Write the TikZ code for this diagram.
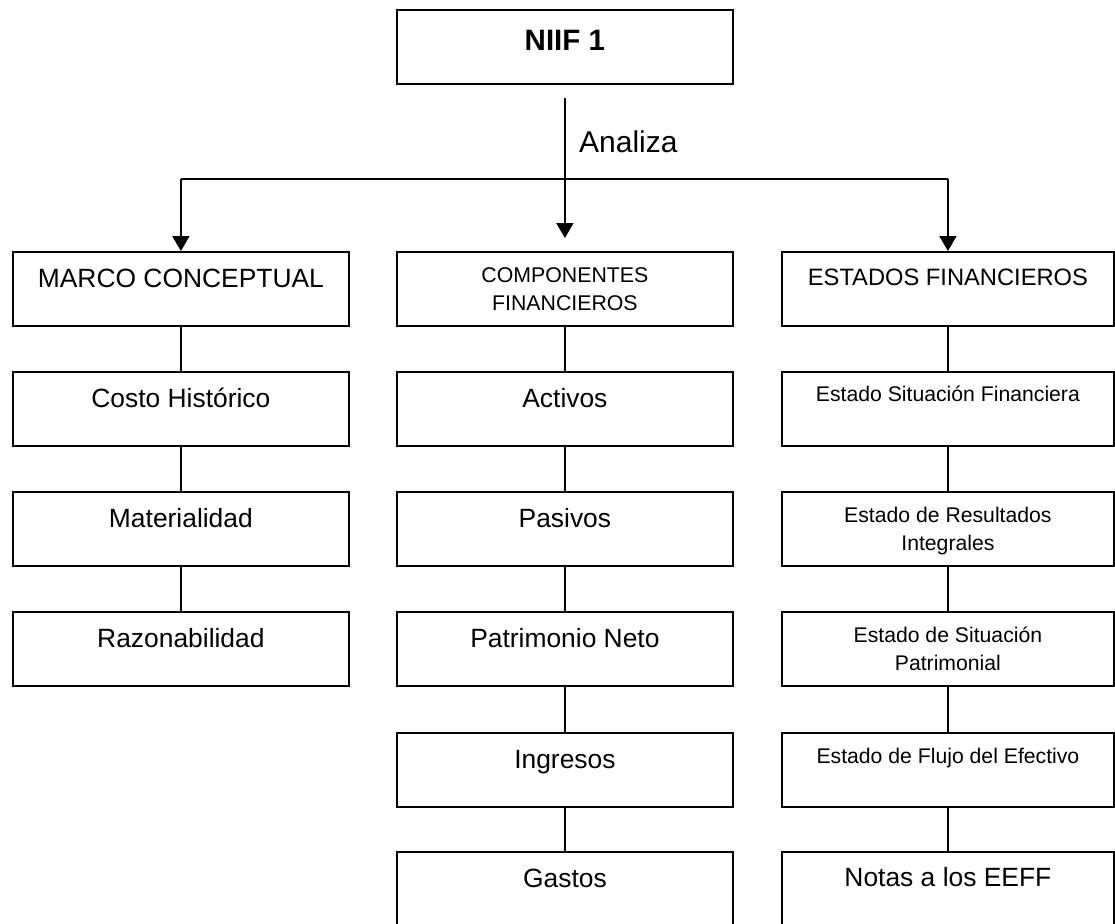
\documentclass[tikz,border=0pt]{standalone}
\usepackage{fontspec}
\setmainfont{Liberation Sans}
\usetikzlibrary{arrows.meta}

% box text: width, font size, line spacing, first-baseline offset, text
\newcommand\cell[5]{\parbox[c][74pt][t]{#1}{\centering\fontsize{#2}{#3}\selectfont\rule{0pt}{#4}#5\par}}

\tikzset{
  box/.style={draw, line width=1.8pt, inner sep=0pt, anchor=north west},
  link/.style={line width=1.6pt},
  arr/.style={line width=2pt, -{Triangle[width=17pt,length=15pt]}}
}

\begin{document}
\begin{tikzpicture}[x=1pt,y=-1pt]
\useasboundingbox (0,0) rectangle (1115,923);

% top node
\node[box] (niif) at (396,9) {\parbox[c][74pt][t]{336pt}{\centering\fontsize{29.5}{34}\selectfont\bfseries\rule{0pt}{41pt}NIIF 1\par}};

% left column
\node[box] (marco) at (12,251) {\cell{336pt}{26.4}{30}{36pt}{MARCO CONCEPTUAL}};
\node[box] (costo) at (12,371) {\cell{336pt}{26.4}{30}{36pt}{Costo Histórico}};
\node[box] (mater) at (12,491) {\cell{336pt}{26.4}{30}{36pt}{Materialidad}};
\node[box] (razon) at (12,611) {\cell{336pt}{26.4}{30}{36pt}{Razonabilidad}};

% middle column
\node[box] (comp) at (396,251) {\cell{336pt}{21.3}{27.5}{31pt}{COMPONENTES\\FINANCIEROS}};
\node[box] (activos) at (396,371) {\cell{336pt}{26.4}{30}{36pt}{Activos}};
\node[box] (pasivos) at (396,491) {\cell{336pt}{26.4}{30}{36pt}{Pasivos}};
\node[box] (patri) at (396,611) {\cell{336pt}{26.4}{30}{36pt}{Patrimonio Neto}};
\node[box] (ingresos) at (396,732) {\cell{336pt}{26.4}{30}{36pt}{Ingresos}};
\node[box] (gastos) at (396,851) {\cell{336pt}{26.4}{30}{36pt}{Gastos}};

% right column
\node[box] (estados) at (781,251) {\cell{332pt}{23.7}{28}{34pt}{ESTADOS FINANCIEROS}};
\node[box] (esf) at (781,371) {\cell{332pt}{21.2}{28}{30pt}{Estado Situación Financiera}};
\node[box] (eri) at (781,491) {\cell{332pt}{21.2}{28}{31pt}{Estado de Resultados\\Integrales}};
\node[box] (esp) at (781,611) {\cell{332pt}{21.2}{28}{31pt}{Estado de Situación\\Patrimonial}};
\node[box] (efe) at (781,732) {\cell{332pt}{21.2}{28}{31pt}{Estado de Flujo del Efectivo}};
\node[box] (notas) at (781,851) {\cell{332pt}{26.4}{30}{35pt}{Notas a los EEFF}};

% connectors inside each column
\draw[link] (marco) -- (costo);
\draw[link] (costo) -- (mater);
\draw[link] (mater) -- (razon);
\draw[link] (comp) -- (activos);
\draw[link] (activos) -- (pasivos);
\draw[link] (pasivos) -- (patri);
\draw[link] (patri) -- (ingresos);
\draw[link] (ingresos) -- (gastos);
\draw[link] (estados) -- (esf);
\draw[link] (esf) -- (eri);
\draw[link] (eri) -- (esp);
\draw[link] (esp) -- (efe);
\draw[link] (efe) -- (notas);

% distribution bar and arrows
\coordinate (bus) at (0,179);
\draw[link] (marco.north |- bus) -- (estados.north |- bus);
\draw[arr] (marco.north |- bus) -- (marco.north);
\draw[arr] (estados.north |- bus) -- (estados.north);
\draw[arr, shorten <=13pt, shorten >=13pt] (niif.south) -- (comp.north);

\node[anchor=base west, inner sep=0pt, font=\fontsize{30}{34}\selectfont] (lbl) at (579,152) {Analiza};
\end{tikzpicture}
\end{document}
